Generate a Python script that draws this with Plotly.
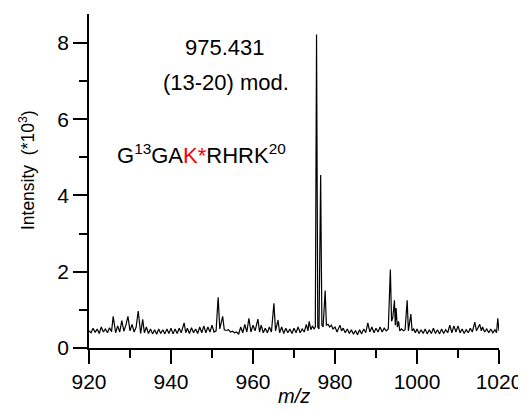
import plotly.graph_objects as go

mz = [
    920.0, 920.5, 921.0, 921.5, 922.0, 922.5, 923.0, 923.5, 924.0, 924.5,
    925.0, 925.5, 925.9, 926.3, 926.5, 927.0, 927.5, 928.0, 928.5, 929.0,
    929.5, 930.0, 930.5, 931.0, 931.5, 932.0, 932.4, 932.6, 933.1, 933.5,
    934.0, 934.5, 935.0, 935.5, 936.0, 936.5, 937.0, 937.5, 938.0, 938.5,
    939.0, 939.5, 940.0, 940.5, 941.0, 941.5, 942.0, 942.5, 943.2, 943.6,
    944.0, 944.5, 945.0, 945.5, 946.0, 946.5, 947.0, 947.5, 948.0, 948.5,
    949.0, 949.5, 950.0, 950.5, 951.0, 951.5, 951.9, 952.6, 953.0, 953.5,
    954.0, 954.5, 955.0, 955.5, 956.0, 956.5, 957.0, 957.5, 958.0, 958.5,
    959.0, 959.5, 960.0, 960.5, 961.2, 961.6, 962.0, 962.5, 963.0, 963.5,
    964.0, 964.5, 965.1, 965.5, 966.1, 966.5, 967.0, 967.5, 968.0, 968.5,
    969.0, 969.5, 970.0, 970.5, 971.0, 971.5, 972.0, 972.5, 973.0, 973.4,
    973.7, 974.1, 974.5, 974.9, 975.2, 975.5, 975.8, 976.1, 976.5, 976.8,
    977.1, 977.6, 977.9, 978.3, 978.7, 979.1, 979.5, 980.0, 980.5, 981.2,
    981.6, 982.0, 982.5, 983.0, 983.5, 984.0, 984.5, 985.0, 985.5, 986.0,
    986.5, 987.0, 987.5, 988.0, 988.5, 989.0, 989.5, 990.0, 990.5, 991.0,
    991.5, 992.0, 992.5, 993.0, 993.5, 993.8, 994.1, 994.5, 994.7, 994.9,
    995.2, 995.5, 995.8, 996.2, 996.7, 997.1, 997.6, 997.9, 998.5, 998.8,
    999.2, 999.6, 1000.0, 1000.5, 1001.0, 1001.5, 1002.0, 1002.5, 1003.0, 1003.5,
    1004.0, 1004.5, 1005.0, 1005.5, 1006.0, 1006.5, 1007.0, 1007.5, 1008.0, 1008.5,
    1009.0, 1009.5, 1010.0, 1010.5, 1011.0, 1011.5, 1012.0, 1012.5, 1013.0, 1013.5,
    1014.1, 1014.5, 1015.3, 1015.7, 1016.0, 1016.5, 1017.0, 1017.5, 1018.0, 1018.5,
    1019.0, 1019.4, 1019.7, 1020.0,
]

intensity = [
    0.45, 0.40, 0.52, 0.41, 0.50, 0.38, 0.55, 0.42, 0.50, 0.40,
    0.53, 0.43, 0.83, 0.45, 0.40, 0.58, 0.42, 0.72, 0.44, 0.60,
    0.83, 0.45, 0.62, 0.42, 0.55, 0.97, 0.42, 0.38, 0.75, 0.40,
    0.55, 0.38, 0.50, 0.37, 0.48, 0.36, 0.50, 0.38, 0.48, 0.37,
    0.50, 0.38, 0.52, 0.37, 0.50, 0.38, 0.52, 0.40, 0.66, 0.40,
    0.52, 0.38, 0.53, 0.40, 0.50, 0.38, 0.55, 0.40, 0.58, 0.40,
    0.55, 0.42, 0.60, 0.42, 0.45, 1.33, 0.50, 0.83, 0.48, 0.46,
    0.48, 0.42, 0.44, 0.40, 0.42, 0.36, 0.55, 0.40, 0.62, 0.42,
    0.78, 0.42, 0.60, 0.45, 0.76, 0.42, 0.60, 0.40, 0.52, 0.40,
    0.55, 0.42, 1.17, 0.45, 0.73, 0.40, 0.55, 0.38, 0.52, 0.40,
    0.50, 0.38, 0.52, 0.40, 0.55, 0.40, 0.50, 0.42, 0.62, 0.45,
    0.70, 0.48, 0.58, 0.50, 0.55, 8.22, 0.55, 0.50, 4.54, 0.60,
    0.55, 1.51, 0.60, 0.62, 0.55, 0.60, 0.50, 0.55, 0.42, 0.60,
    0.45, 0.52, 0.40, 0.50, 0.38, 0.48, 0.36, 0.46, 0.35, 0.48,
    0.37, 0.50, 0.40, 0.66, 0.42, 0.55, 0.40, 0.52, 0.42, 0.55,
    0.42, 0.52, 0.45, 0.50, 2.06, 0.70, 0.80, 1.25, 0.60, 1.05,
    0.55, 0.70, 0.45, 0.50, 0.45, 0.48, 1.25, 0.45, 0.89, 0.45,
    0.50, 0.40, 0.50, 0.38, 0.48, 0.38, 0.50, 0.37, 0.48, 0.38,
    0.52, 0.38, 0.48, 0.37, 0.50, 0.38, 0.48, 0.40, 0.60, 0.40,
    0.58, 0.42, 0.58, 0.40, 0.50, 0.38, 0.48, 0.40, 0.52, 0.42,
    0.68, 0.45, 0.62, 0.45, 0.55, 0.42, 0.50, 0.40, 0.50, 0.40,
    0.48, 0.40, 0.78, 0.45,
]

x_ticks = [920, 940, 960, 980, 1000, 1020]
y_ticks = [0, 2, 4, 6, 8]

FONT = "Liberation Sans, Arial, sans-serif"

fig = go.Figure()
fig.add_trace(go.Scatter(
    x=mz, y=intensity, mode="lines",
    line=dict(color="black", width=1.2),
    hoverinfo="skip", showlegend=False,
))

# page body has an 8px margin, so the figure is sized/placed to compensate
fig.update_layout(
    width=518, height=402,
    margin=dict(l=81, r=27, t=6, b=62),
    paper_bgcolor="white", plot_bgcolor="white",
    font=dict(family=FONT, size=21, color="black"),
    showlegend=False,
)

fig.update_xaxes(
    range=[920, 1020], tickvals=x_ticks, ticktext=[str(v) for v in x_ticks],
    showgrid=False, zeroline=False, showline=True, linecolor="black", linewidth=1.5,
    ticks="outside", ticklen=14, tickwidth=1.5, tickcolor="black",
    minor=dict(ticks="outside", ticklen=8, tickwidth=1.5, tickcolor="black", dtick=10, tick0=920),
    tickfont=dict(size=21), automargin=False,
)

fig.update_yaxes(
    range=[0, 8.76], tickvals=y_ticks, ticktext=[str(v) for v in y_ticks],
    showgrid=False, zeroline=False, showline=True, linecolor="black", linewidth=1.5,
    ticks="outside", ticklen=14, tickwidth=1.5, tickcolor="black",
    minor=dict(ticks="outside", ticklen=8, tickwidth=1.5, tickcolor="black", dtick=1, tick0=0),
    tickfont=dict(size=21), automargin=False,
)

# axis titles placed as annotations
fig.add_annotation(x=-0.151, y=0.533, xref="paper", yref="paper",
                   text="Intensity  (*10<sup>3</sup>)", textangle=-90,
                   xanchor="center", yanchor="middle", showarrow=False,
                   font=dict(size=17.5, family=FONT, color="black"))
fig.add_annotation(x=0.5, y=-0.145, xref="paper", yref="paper",
                   text="<i>m/z</i>", xanchor="center", yanchor="middle",
                   showarrow=False, font=dict(size=20, family=FONT, color="black"))

fig.add_annotation(x=953.2, y=7.89, xref="x", yref="y", text="975.431",
                   showarrow=False, font=dict(size=22, family=FONT, color="black"))
fig.add_annotation(x=953.4, y=6.97, xref="x", yref="y", text="(13-20) mod.",
                   showarrow=False, font=dict(size=22, family=FONT, color="black"))
fig.add_annotation(x=947.4, y=5.1, xref="x", yref="y",
                   text="G<sup>13</sup>GA<span style='color:red'>K*</span>RHRK<sup>20</sup>",
                   showarrow=False, font=dict(size=22, family=FONT, color="black"))

fig.write_html("out.html")
